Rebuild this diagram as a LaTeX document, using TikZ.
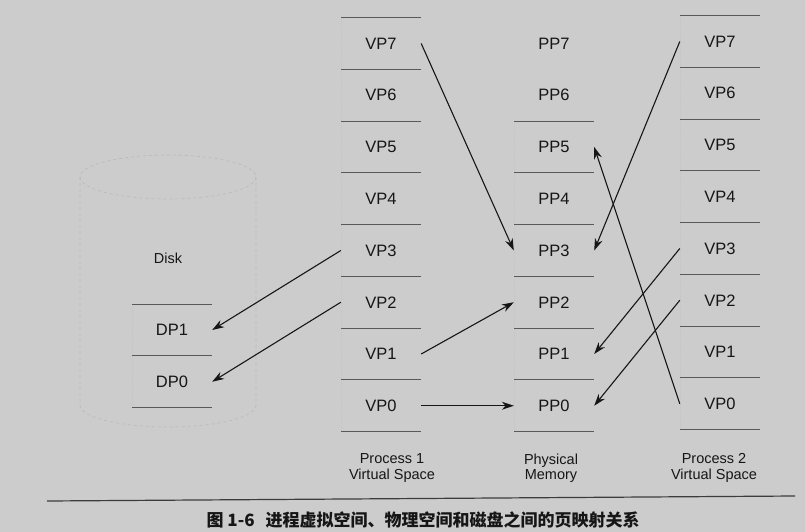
\documentclass[tikz,border=0pt]{standalone}
\usepackage{fontspec}
\setmainfont{Liberation Sans}
\newfontfamily\cjk{Noto Sans CJK SC}
\usetikzlibrary{arrows.meta, positioning}
\definecolor{scanbg}{RGB}{204,204,204}
\definecolor{scanink}{RGB}{22,22,22}
\definecolor{scanline}{RGB}{60,60,60}

\begin{document}
\begin{tikzpicture}[x=1pt, y=-1pt]
\tikzstyle{pagetext} = [rectangle, minimum width=80pt, minimum height=51.75pt, inner sep=0pt, text centered, text=scanink, font=\fontsize{16.5}{16.5}\selectfont]
\tikzstyle{page} = [pagetext, path picture={
  \draw[scanline!30, densely dotted, line width=0.8pt] (path picture bounding box.north west) -- (path picture bounding box.south west) (path picture bounding box.north east) -- (path picture bounding box.south east);
  \draw[scanline!85, line width=1.2pt] (path picture bounding box.north west) -- (path picture bounding box.north east) (path picture bounding box.south west) -- (path picture bounding box.south east);}]
\tikzstyle{label} = [align=center, text=scanink, font=\fontsize{14.5}{15.5}\selectfont]
\tikzstyle{diskline} = [scanline!35, dashed, line width=0.7pt]
\tikzstyle{arrow} = [line width=1.1pt, draw=scanink, -{Stealth[length=12pt, width=8pt]}]

% Background
\path[use as bounding box, fill=scanbg] (0,0) rectangle (805,532);

% Disk
\draw[diskline] (168,177) ellipse [x radius=88, y radius=22];
\draw[diskline] (80,177) -- (80,405) arc [start angle=180, end angle=0, x radius=88, y radius=22] -- (256,177);
\node[text=scanink, font=\fontsize{14.5}{14.5}\selectfont] (disk) at (168,258) {Disk};
\node[page] (dp1) at (172,330) {DP1};
\node[page] (dp0) at (172,381.75) {DP0};

% Process 1 virtual space
\node[page] (p1vp7) at (381,43.5) {VP7};
\node[page] (p1vp6) at (381,95.25) {VP6};
\node[page] (p1vp5) at (381,147) {VP5};
\node[page] (p1vp4) at (381,198.75) {VP4};
\node[page] (p1vp3) at (381,250.5) {VP3};
\node[page] (p1vp2) at (381,302.25) {VP2};
\node[page] (p1vp1) at (381,354) {VP1};
\node[page] (p1vp0) at (381,405.75) {VP0};

% Physical memory
\node[pagetext] (pp7) at (554,43.5) {PP7};
\node[pagetext] (pp6) at (554,95.25) {PP6};
\node[page] (pp5) at (554,147) {PP5};
\node[page] (pp4) at (554,198.75) {PP4};
\node[page] (pp3) at (554,250.5) {PP3};
\node[page] (pp2) at (554,302.25) {PP2};
\node[page] (pp1) at (554,354) {PP1};
\node[page] (pp0) at (554,405.75) {PP0};

% Process 2 virtual space
\node[page] (p2vp7) at (720,41.5) {VP7};
\node[page] (p2vp6) at (720,93.25) {VP6};
\node[page] (p2vp5) at (720,145) {VP5};
\node[page] (p2vp4) at (720,196.75) {VP4};
\node[page] (p2vp3) at (720,248.5) {VP3};
\node[page] (p2vp2) at (720,300.25) {VP2};
\node[page] (p2vp1) at (720,352) {VP1};
\node[page] (p2vp0) at (720,403.75) {VP0};

% Arrows
\draw[arrow] (p1vp7.east) -- (pp3.west);
\draw[arrow] (p1vp1.east) -- (pp2.west);
\draw[arrow] (p1vp0.east) -- (pp0.west);
\draw[arrow] (p1vp3.west) -- (dp1.east);
\draw[arrow] (p1vp2.west) -- (dp0.east);
\draw[arrow] (p2vp7.west) -- (pp3.east);
\draw[arrow] (p2vp3.west) -- (pp1.east);
\draw[arrow] (p2vp2.west) -- (pp0.east);
\draw[arrow] (p2vp0.west) -- (pp5.east);

% Labels
\node[label] (p1label) at (392,468) {Process 1\\Virtual Space};
\node[label] (pmlabel) at (551,468) {Physical\\Memory};
\node[label] (p2label) at (714,468) {Process 2\\Virtual Space};

% Caption
\coordinate (ruleleft) at (47,501);
\coordinate (ruleright) at (795,496);
\draw[scanline, line width=1.2pt] (ruleleft) -- (ruleright);
\node[anchor=west, text=scanink, font=\cjk\bfseries\fontsize{17}{17}\selectfont] (caption) at (203,520) {图 1-6\hspace{11pt}进程虚拟空间、物理空间和磁盘之间的页映射关系};
\end{tikzpicture}
\end{document}
